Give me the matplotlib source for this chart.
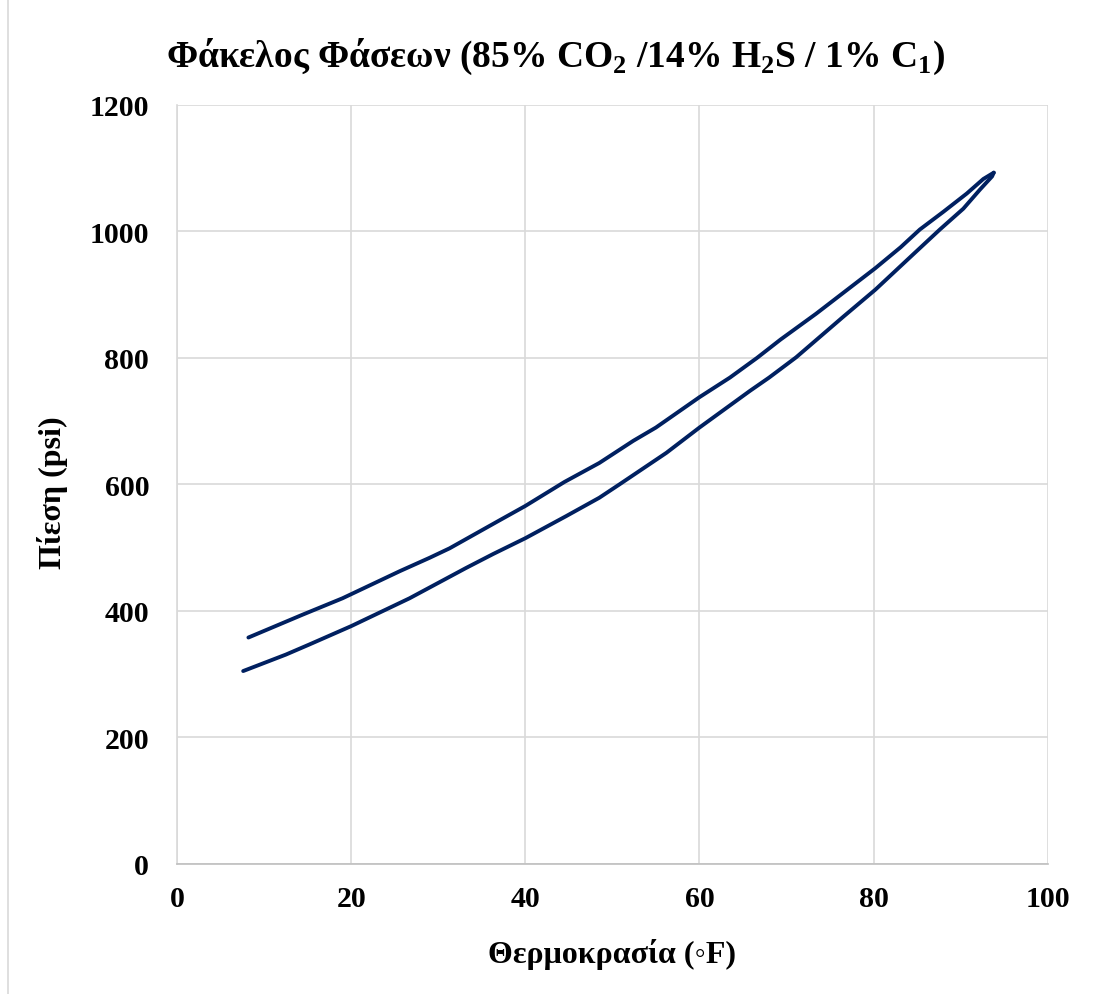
import matplotlib.pyplot as plt
from matplotlib.lines import Line2D

# bubble (upper) and dew (lower) branches
bub_t = [8.2, 14.4, 19.0, 25.6, 29.0, 31.3, 37.0, 40.0, 44.5, 48.5, 52.4, 55.0, 60.0,
         63.5, 66.6, 69.3, 73.4, 80.2, 83.1, 85.3, 88.0, 90.7, 92.6, 93.8]
bub_p = [358, 394, 420, 463, 484, 499, 543, 566, 604, 634, 669, 690, 738,
         769, 800, 829, 870, 942, 975, 1003, 1031, 1060, 1083, 1093]
dew_t = [7.6, 12.5, 15.2, 20.0, 26.7, 33.2, 36.3, 40.0, 44.7, 48.5, 50.8, 56.2, 60.0,
         65.8, 68.0, 71.1, 76.5, 80.2, 84.4, 87.6, 90.3, 92.2, 93.6, 93.8]
dew_p = [305, 331, 347, 376, 420, 468, 490, 515, 550, 579, 600, 650, 690,
         748, 769, 801, 865, 908, 962, 1003, 1036, 1066, 1087, 1093]

xticks = [0, 20, 40, 60, 80, 100]
yticks = [0, 200, 400, 600, 800, 1000, 1200]

plt.rcParams['font.family'] = ['Liberation Serif', 'DejaVu Sans']
plt.rcParams['font.weight'] = 'bold'
plt.rcParams['mathtext.fontset'] = 'custom'
plt.rcParams['mathtext.rm'] = 'Liberation Serif:bold'
plt.rcParams['mathtext.bf'] = 'Liberation Serif:bold'

fig = plt.figure(figsize=(10.96, 9.95), dpi=100)
ax = fig.add_axes([0.1615, 0.1307, 0.7945, 0.7628])

col = '#002060'
ax.plot(bub_t, bub_p, color=col, lw=2.8, solid_capstyle='round', solid_joinstyle='round')
ax.plot(dew_t, dew_p, color=col, lw=2.8, solid_capstyle='round', solid_joinstyle='round')

ax.set_xlim(0, 100)
ax.set_ylim(0, 1200)
ax.set_xticks(xticks)
ax.set_yticks(yticks)
ax.grid(True, color='#d9d9d9', lw=1.2)
ax.set_axisbelow(True)
for s in ['top', 'right']:
    ax.spines[s].set_visible(False)
ax.spines['left'].set_color('#d9d9d9')
ax.spines['bottom'].set_color('#bfbfbf')
ax.spines['left'].set_linewidth(1.2)
ax.spines['bottom'].set_linewidth(1.2)
ax.tick_params(length=0, labelsize=21.5)
ax.tick_params(axis='y', pad=20)
ax.tick_params(axis='x', pad=15)
for lab in ax.get_xticklabels() + ax.get_yticklabels():
    lab.set_fontweight('bold')

ax.set_xlabel('Θερμοκρασία (◦F)', fontsize=23, fontweight='bold')
ax.set_ylabel('Πίεση (psi)', fontsize=23, fontweight='bold')
ax.xaxis.set_label_coords(0.5, -0.1186)
ax.yaxis.set_label_coords(-0.1435, 0.49)
ax.xaxis.label.set_va('center')
ax.yaxis.label.set_va('center')

fig.text(0.507, 0.943,
         'Φάκελος Φάσεων (85% CO$_\\mathbf{2}$ /14% H$_\\mathbf{2}$S / 1% C$_\\mathbf{1}$)',
         fontsize=27, fontweight='bold', ha='center', va='center')

# outer chart border, visible on the left only
fig.add_artist(Line2D([8 / 1096, 8 / 1096], [0, 1], color='#d9d9d9', lw=1.2,
                      transform=fig.transFigure))

fig.savefig('out.png', dpi=100)
